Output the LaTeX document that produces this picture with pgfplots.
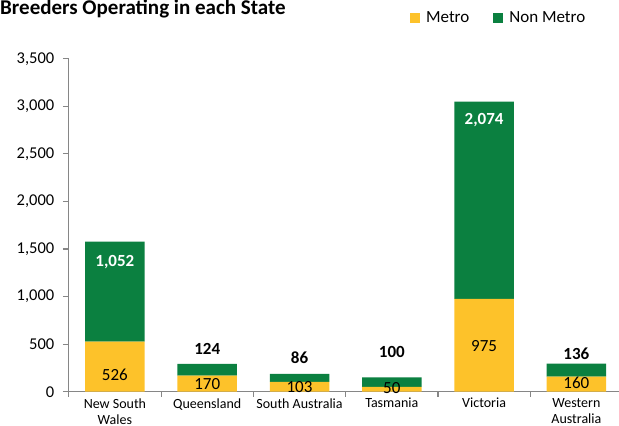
\documentclass[border=0pt]{standalone}
\usepackage{pgfplots}
\pgfplotsset{compat=1.18}
\usepackage{fontspec}
\setmainfont{Carlito}
\definecolor{metro}{RGB}{253,194,42}
\definecolor{nonmetro}{RGB}{11,128,64}
\definecolor{axgray}{RGB}{134,134,134}
\begin{document}
\begin{tikzpicture}[x=1pt,y=1pt]
\useasboundingbox (0,0) rectangle (619,426);
\node[anchor=base west, inner sep=0pt, font=\bfseries\fontsize{21}{24}\selectfont] at (0,411) {Breeders Operating in each State};
\begin{axis}[
  at={(124.5,36)}, anchor=origin,
  scale only axis, width=553.8pt, height=333pt,
  xmin=-0.5, xmax=5.5, ymin=0, ymax=3500,
  ybar stacked, bar width=59.5pt,
  axis x line*=bottom, axis y line*=left,
  axis line style={axgray, line width=1.1pt},
  tick align=outside,
  xtick={0,...,5},
  xticklabels={New South\\Wales,Queensland,South Australia,Tasmania,Victoria,Western\\Australia},
  xticklabel style={align=center, font=\fontsize{14}{16}\selectfont, text=black, yshift=3pt},
  major x tick style={draw=none},
  minor xtick={-0.5,0.5,...,5.5},
  minor tick length=5pt,
  minor x tick style={axgray, line width=1.1pt},
  ytick={0,500,...,3500},
  major tick length=6pt,
  y tick style={axgray, line width=1.1pt},
  yticklabel style={font=\fontsize{16.5}{18}\selectfont, text=black, xshift=-5pt},
  scaled y ticks=false,
  /pgf/number format/.cd, 1000 sep={,}, assume math mode=true,
  /pgfplots/.cd,
  legend columns=2,
  legend style={at={(0.942,1.123)}, anchor=east, draw=none, fill=none,
    font=\fontsize{17}{20}\selectfont,
    /tikz/every even column/.append style={column sep=22pt},
    /tikz/every odd column/.append style={column sep=4pt}},
  legend image code/.code={\fill[#1] (0pt,-5pt) rectangle (10pt,5pt);},
]
\addplot[fill=metro, draw=none] coordinates {(0,526) (1,170) (2,103) (3,50) (4,975) (5,160)};
\addplot[fill=nonmetro, draw=none] coordinates {(0,1052) (1,124) (2,86) (3,100) (4,2074) (5,136)};
\legend{Metro, Non Metro}
\end{axis}
\begin{axis}[
  at={(124.5,36)}, anchor=origin,
  scale only axis, width=553.8pt, height=333pt,
  xmin=-0.5, xmax=5.5, ymin=0, ymax=3500,
  hide axis, clip=false,
]
\addplot[only marks, mark=*, mark size=0pt, mark options={draw=none, fill=none},
  nodes near coords, point meta=explicit symbolic,
  nodes near coords style={anchor=center, inner sep=0.5pt, font=\fontsize{17}{20}\selectfont, text=black}]
  table[meta=label] {
x y label
0 182 526
1 77 170
2 52 103
3 35 50
4 483 975
5 98 160
};
\addplot[only marks, mark=*, mark size=0pt, mark options={draw=none, fill=none},
  nodes near coords, point meta=explicit symbolic,
  nodes near coords style={anchor=center, font=\bfseries\fontsize{17}{20}\selectfont, text=white}]
  table[meta=label] {
x y label
0 1364 1,052
4 2854 2,074
};
\addplot[only marks, mark=*, mark size=0pt, mark options={draw=none, fill=none},
  nodes near coords, point meta=explicit symbolic,
  nodes near coords style={anchor=center, font=\bfseries\fontsize{17}{20}\selectfont, text=black}]
  table[meta=label] {
x y label
1 451 124
2 357 86
3 420 100
5 399 136
};
\end{axis}
\end{tikzpicture}
\end{document}
